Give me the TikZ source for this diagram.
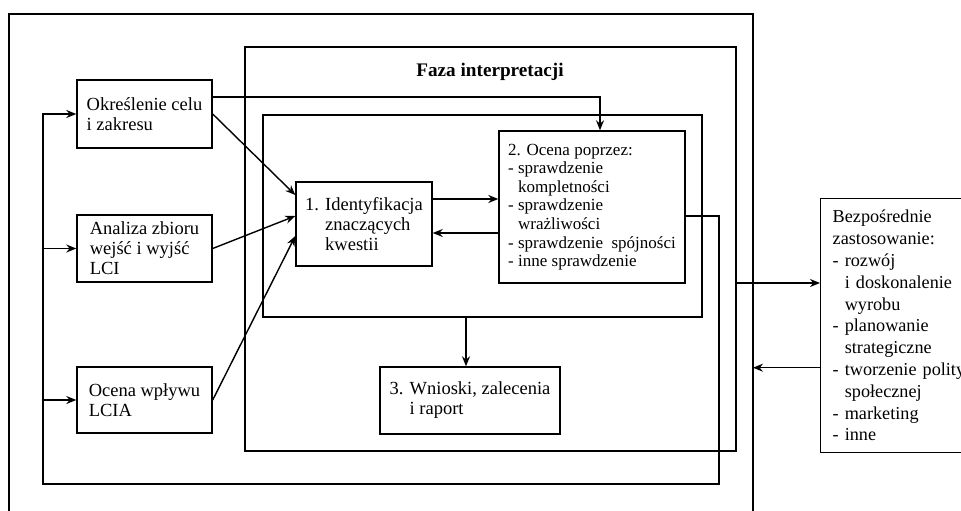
\documentclass[tikz,border=0pt]{standalone}
\usepackage{fontspec}
\setmainfont{Liberation Serif}
\usetikzlibrary{arrows.meta}
\begin{document}
\begin{tikzpicture}[x=1pt,y=-1pt,>={Stealth[length=10pt,width=8pt]},line width=1.4pt,
	box/.style={draw,inner sep=0pt,align=left,font=\fontsize{18.5}{20}\selectfont},
	frame/.style={draw,inner sep=0pt}]
	\clip (0,0) rectangle (961,511);
	% rama zewnetrzna (otwarta od dolu)
	\coordinate (ramaL) at (9,14); \coordinate (ramaP) at (753,14);
	\draw (9,520)--(ramaL)--(ramaP)--(753,520);
	% faza interpretacji
	\node[frame,line width=2.8pt,minimum width=491,minimum height=404] (faza) at (490.5,249) {};
	\node[font=\bfseries\fontsize{19.2}{20}\selectfont] (tytul) at (490,72) {Faza interpretacji};
	\node[frame,minimum width=439,minimum height=202] (wnetrze) at (482.5,216) {};
	% bloki wejsciowe
	\node[box,minimum width=135,minimum height=68] (cel) at (144.5,114) {Określenie celu\\i zakresu};
	\node[box,minimum width=135,minimum height=67] (lci) at (144.5,248.5) {Analiza zbioru\\wejść i wyjść\\LCI};
	\node[box,minimum width=135,minimum height=66] (lcia) at (144.5,400) {Ocena wpływu\\LCIA};
	% bloki fazy
	\node[box,minimum width=136,minimum height=84] (ident) at (364,224) {1. Identyfikacja\\\phantom{1. }znaczących\\\phantom{1. }kwestii};
	\node[box,font=\fontsize{17}{18.6}\selectfont,minimum width=186,minimum height=152] (ocena) at (592,207)
		{2. Ocena poprzez:\\- sprawdzenie\\\phantom{- }kompletności\\- sprawdzenie\\\phantom{- }wrażliwości\\- sprawdzenie\ \ spójności\\- inne sprawdzenie};
	\node[box,minimum width=180,minimum height=67] (wnioski) at (470,400.5) {3. Wnioski, zalecenia\\\phantom{3. }i raport};
	% zastosowanie
	\node[box,font=\fontsize{18.2}{21.8}\selectfont,anchor=north west,inner xsep=12pt,text width=155,minimum height=254] (zast) at (820,198)
		{Bezpośrednie\\zastosowanie:\\- rozwój\\\phantom{- }i doskonalenie\\\phantom{- }wyrobu\\- planowanie\\\phantom{- }strategiczne\\- tworzenie polityki\\\phantom{- }społecznej\\- marketing\\- inne};
	% strzalki
	\coordinate (gora) at (600,97);
	\draw[->] (cel.east |- gora)--(gora)--(ocena.north -| gora);
	\draw[->] (cel.east)--([yshift=29pt]ident.west);
	\draw[->] (lci.east)--([yshift=8pt]ident.west);
	\draw[->] (lcia.east)--([yshift=-12pt]ident.west);
	\draw[->] ([yshift=25pt]ident.east)--([yshift=25pt]ident.east -| ocena.west);
	\draw[->] ([yshift=-9pt]ident.east -| ocena.west)--([yshift=-9pt]ident.east);
	\draw[->] ([xshift=-4pt]wnioski.north |- wnetrze.south)--([xshift=-4pt]wnioski.north);
	% sprzezenie zwrotne
	\coordinate (pz) at (719,484); \coordinate (lz) at (43,484);
	\draw[->] ([yshift=-9pt]ocena.east) -| (pz)--(lz) |- (cel.west);
	\draw[->] (lz |- lci.west)--(lci.west);
	\draw[->] (lz |- lcia.west)--(lcia.west);
	\draw[->] ([yshift=-34pt]faza.east)--([yshift=-34pt]faza.east -| zast.west);
	\draw[->] ([yshift=-42pt]zast.west)--([yshift=-42pt]zast.west -| ramaP);
\end{tikzpicture}
\end{document}
